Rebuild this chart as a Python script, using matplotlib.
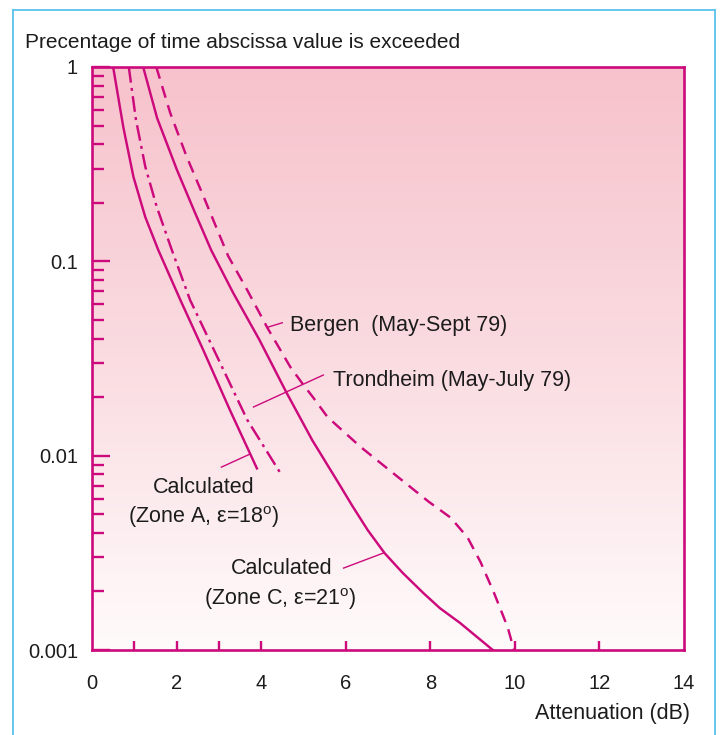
import numpy as np
import matplotlib
matplotlib.use("Agg")
import matplotlib.pyplot as plt
from matplotlib.ticker import FixedLocator, LogLocator, NullFormatter
from matplotlib.colors import LinearSegmentedColormap
from matplotlib.lines import Line2D

plt.rcParams["font.family"] = ["Liberation Sans", "DejaVu Sans"]
plt.rcParams["mathtext.fontset"] = "custom"
plt.rcParams["mathtext.rm"] = "Liberation Sans"
plt.rcParams["mathtext.it"] = "Liberation Sans:italic"

# Attenuation (dB) vs percentage of time the value is exceeded
zone_a_x = [0.50, 0.74, 0.98, 1.26, 1.57, 2.09, 2.63, 3.26, 3.90]
zone_a_y = [1.0, 0.491, 0.272, 0.169, 0.114, 0.0632, 0.0350, 0.0172, 0.0086]

trondheim_x = [0.87, 1.04, 1.26, 1.53, 1.89, 2.32, 2.96, 3.67, 4.46]
trondheim_y = [1.0, 0.534, 0.307, 0.191, 0.114, 0.0632, 0.0323, 0.0153, 0.0081]

zone_c_x = [1.21, 1.54, 2.01, 2.44, 2.82, 3.34, 3.96, 4.59, 5.21, 5.83,
            6.16, 6.52, 6.92, 7.35, 7.84, 8.23, 8.70, 9.43, 9.48]
zone_c_y = [1.0, 0.546, 0.295, 0.177, 0.114, 0.0687, 0.0394, 0.0213, 0.0120,
            0.00723, 0.0055, 0.00414, 0.00315, 0.00249, 0.00196, 0.00164,
            0.00138, 0.00102, 0.001]

bergen_x = [1.52, 1.85, 2.24, 2.64, 3.22, 3.67, 4.15, 4.69, 4.97, 5.24,
            5.57, 6.35, 7.13, 7.96, 8.48, 8.88, 9.19, 9.51, 9.83, 9.98]
bergen_y = [1.0, 0.580, 0.345, 0.215, 0.1065, 0.0712, 0.0454, 0.0286, 0.0236,
            0.0198, 0.0158, 0.0111, 0.0081, 0.0058, 0.0048, 0.0038, 0.00283,
            0.00196, 0.00131, 0.001]

x_tick_values = [0, 2, 4, 6, 8, 10, 12, 14]
x_tick_labels = ["0", "2", "4", "6", "8", "10", "12", "14"]
x_mark_values = [1, 2, 3, 4, 6, 8, 10, 12]
y_tick_values = [0.001, 0.01, 0.1, 1]
y_tick_labels = ["0.001", "0.01", "0.1", "1"]

MAG = "#CC0A7C"
INK = "#1c1c1c"
BORDER = "#5BC3EE"

W, H = 722, 735
fig = plt.figure(figsize=(W / 100, H / 100), dpi=100)
fig.patch.set_facecolor("white")
rect = [92 / W, 85 / H, 592 / W, 583 / H]

# pink-to-white vertical wash behind the plot area
bg = fig.add_axes(rect, zorder=0)
bg.axis("off")
wash = LinearSegmentedColormap.from_list("wash", ["#F7C2CC", "#FADCE1", "#FFFBFB"])
bg.imshow(np.linspace(0, 1, 256).reshape(-1, 1), aspect="auto", cmap=wash,
          extent=[0, 1, 0, 1], origin="upper", interpolation="bilinear")
bg.set_xlim(0, 1)
bg.set_ylim(0, 1)

ax = fig.add_axes(rect, zorder=1)
ax.patch.set_alpha(0)
ax.set_yscale("log")
ax.set_xlim(0, 14)
ax.set_ylim(0.001, 1)

lw = 1.75
style = dict(color=MAG, lw=lw, solid_joinstyle="round", dash_joinstyle="round")
ax.plot(zone_a_x, zone_a_y, **style)
ax.plot(trondheim_x, trondheim_y, linestyle=(0, (6.5, 2.2, 1.2, 2.2)), **style)
ax.plot(zone_c_x, zone_c_y, **style)
ax.plot(bergen_x, bergen_y, linestyle=(0, (5.0, 3.2)), **style)

# axis frame and ticks
for s in ax.spines.values():
    s.set_color(MAG)
    s.set_linewidth(1.9)

ax.xaxis.remove_overlapping_locs = False
ax.set_xticks(x_tick_values)
ax.set_xticklabels(x_tick_labels)
ax.xaxis.set_minor_locator(FixedLocator(x_mark_values))
ax.tick_params(axis="x", which="major", length=0, pad=17, labelsize=14.5,
               labelcolor=INK)
ax.tick_params(axis="x", which="minor", direction="in", length=6.5,
               width=1.7, color=MAG)

ax.set_yticks(y_tick_values)
ax.set_yticklabels(y_tick_labels)
ax.yaxis.set_minor_locator(LogLocator(base=10, subs=np.arange(2, 10)))
ax.yaxis.set_minor_formatter(NullFormatter())
ax.tick_params(axis="y", which="major", direction="in", length=13,
               width=1.7, color=MAG, pad=10, labelsize=14.5, labelcolor=INK)
ax.tick_params(axis="y", which="minor", direction="in", length=8.6,
               width=1.7, color=MAG)

# curve labels with leader lines
fs = 15.5
ax.plot([4.14, 4.50], [0.0457, 0.0483], color=MAG, lw=1.0)
ax.text(4.69, 0.0438, "Bergen  (May-Sept 79)", fontsize=fs, color=INK,
        va="baseline", ha="left")

ax.plot([3.82, 5.47], [0.0178, 0.0260], color=MAG, lw=1.0)
ax.text(5.69, 0.0228, "Trondheim (May-July 79)", fontsize=fs, color=INK,
        va="baseline", ha="left")

ax.plot([3.06, 3.74], [0.00873, 0.0102], color=MAG, lw=1.0)
ax.text(2.63, 0.00644, "Calculated", fontsize=fs, color=INK,
        va="baseline", ha="center")
ax.text(2.63, 0.0045, r"(Zone A, ε=18$^{\mathrm{o}}$)", fontsize=fs,
        color=INK, va="baseline", ha="center")

ax.plot([5.95, 6.90], [0.00264, 0.00316], color=MAG, lw=1.0)
ax.text(4.48, 0.00246, "Calculated", fontsize=fs, color=INK,
        va="baseline", ha="center")
ax.text(4.45, 0.0017, r"(Zone C, ε=21$^{\mathrm{o}}$)", fontsize=fs,
        color=INK, va="baseline", ha="center")

# axis titles
fig.text(25 / W, 1 - 48.5 / H, "Precentage of time abscissa value is exceeded",
         fontsize=15, color=INK, ha="left", va="baseline")
fig.text(690 / W, 1 - 719 / H, "Attenuation (dB)", fontsize=15.5, color=INK,
         ha="right", va="baseline")

# thin outer frame
fx0, fx1, fy1 = 12.7 / W, 715 / W, 1 - 9.5 / H
for xs, ys in (([fx0, fx0], [0, fy1]), ([fx1, fx1], [0, fy1]),
               ([fx0, fx1], [fy1, fy1])):
    fig.add_artist(Line2D(xs, ys, transform=fig.transFigure, color=BORDER,
                          lw=1.3))

fig.savefig("out.png", dpi=100)
